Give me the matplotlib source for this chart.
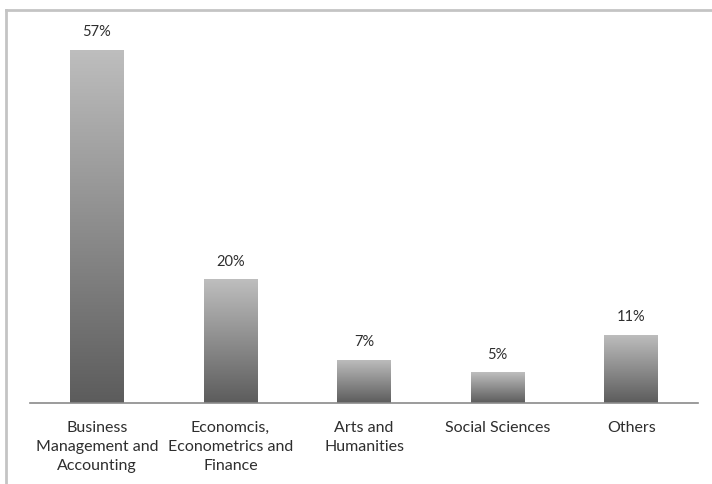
import numpy as np
import matplotlib
matplotlib.use("Agg")
import matplotlib.pyplot as plt
from matplotlib.lines import Line2D

categories = ["Business\nManagement and\nAccounting",
              "Economcis,\nEconometrics and\nFinance",
              "Arts and\nHumanities",
              "Social Sciences",
              "Others"]
shares = [57, 20, 7, 5, 11]
labels = ["57%", "20%", "7%", "5%", "11%"]

plt.rcParams['font.family'] = ['Lato', 'DejaVu Sans']

W, H = 712, 484
fig = plt.figure(figsize=(W / 100, H / 100), dpi=100)
ax = fig.add_axes([30 / W, 81 / H, 668 / W, 371.6 / H])

x = np.arange(len(shares))
bars = ax.bar(x, shares, width=0.4, color='none', edgecolor='none')

# gradient fill: light on top, dark at bottom
grad = np.linspace(0, 1, 256).reshape(-1, 1)
cmap = matplotlib.colors.LinearSegmentedColormap.from_list('g', ['#5c5c5c', '#bebebe'])
for b in bars:
    x0, y0 = b.get_x(), b.get_y()
    w, h = b.get_width(), b.get_height()
    im = ax.imshow(grad, cmap=cmap, aspect='auto', origin='lower',
                   extent=[x0, x0 + w, y0, y0 + h], zorder=2)
    im.set_clip_path(b)

for xi, v, lab in zip(x, shares, labels):
    ax.text(xi, v + 1.7, lab, ha='center', va='bottom', fontsize=10.5, color='#2e2e2e')

ax.set_xlim(-0.5, 4.5)
ax.set_ylim(0, 60)
ax.set_xticks(x)
ax.set_xticklabels(categories, fontsize=11.5, color='#2e2e2e', linespacing=1.45)
ax.tick_params(axis='x', length=0, pad=13)
ax.set_yticks([])
for s in ['top', 'right', 'left']:
    ax.spines[s].set_visible(False)
ax.spines['bottom'].set_color('#8a8a8a')
ax.spines['bottom'].set_linewidth(1.2)

# outer frame (only top and left visible in the crop)
fig.add_artist(Line2D([6 / W, 6 / W], [0, 1 - 10 / H], transform=fig.transFigure,
                      color='#c4c4c4', lw=2))
fig.add_artist(Line2D([6 / W, 1], [1 - 10 / H, 1 - 10 / H], transform=fig.transFigure,
                      color='#c4c4c4', lw=2))

fig.savefig("out.png", dpi=100)
